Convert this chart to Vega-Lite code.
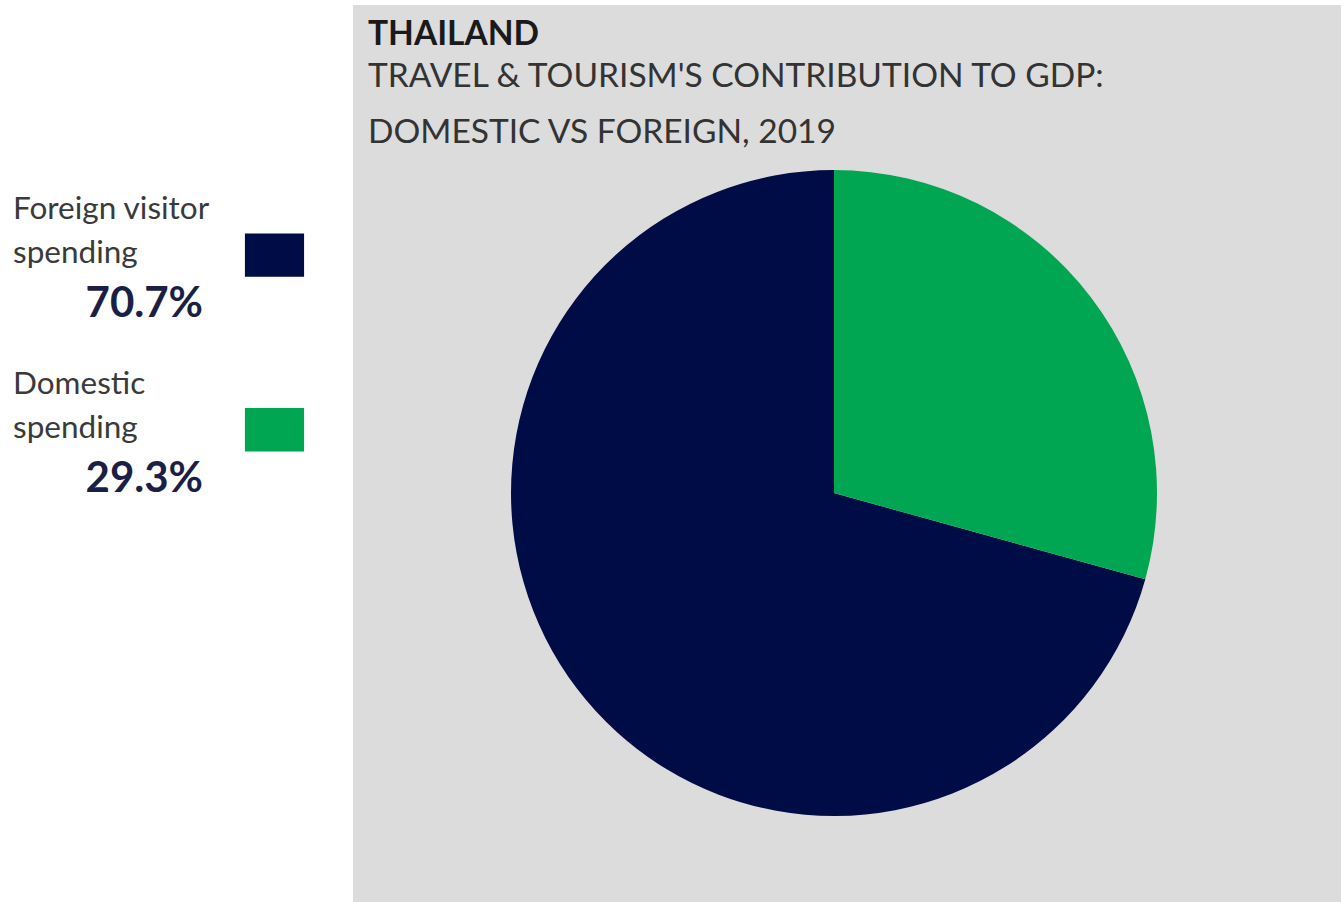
{
  "$schema": "https://vega.github.io/schema/vega-lite/v6.json",
  "background": "white",
  "padding": {"left": 0, "top": 5, "right": 0, "bottom": 0},
  "spacing": 0,
  "data": {
    "values": [
      {"category": "Foreign visitor spending", "label": "Foreign visitor\nspending", "share": 0.707},
      {"category": "Domestic spending", "label": "Domestic\nspending", "share": 0.293}
    ]
  },
  "config": {"view": {"stroke": null}},
  "hconcat": [
    {
      "width": 353,
      "height": 524,
      "encoding": {
        "y": {
          "field": "category",
          "type": "nominal",
          "sort": ["Foreign visitor spending", "Domestic spending"],
          "scale": {"type": "point", "padding": 1, "align": 0.716},
          "axis": null
        }
      },
      "layer": [
        {
          "mark": {
            "type": "point",
            "shape": "M-1,-0.733H1V0.733H-1Z",
            "size": 3500,
            "filled": true,
            "opacity": 1,
            "xOffset": 98
          },
          "encoding": {
            "color": {
              "field": "category",
              "type": "nominal",
              "scale": {"domain": ["Foreign visitor spending", "Domestic spending"], "range": ["#000c45", "#00a651"]},
              "legend": null
            }
          }
        },
        {
          "mark": {
            "type": "text",
            "align": "left",
            "baseline": "alphabetic",
            "lineBreak": "\n",
            "lineHeight": 44,
            "font": "Lato",
            "fontSize": 31.5,
            "color": "#3a3a3a",
            "dx": -163.5,
            "dy": -36
          },
          "encoding": {"text": {"field": "label"}}
        },
        {
          "mark": {
            "type": "text",
            "align": "right",
            "baseline": "alphabetic",
            "font": "Lato",
            "fontSize": 42,
            "fontWeight": "bold",
            "color": "#1b1f45",
            "dx": 26.5,
            "dy": 62
          },
          "encoding": {"text": {"field": "share", "type": "quantitative", "format": ".1%"}}
        }
      ]
    },
    {
      "width": 988,
      "height": 897,
      "view": {"fill": "#dcdcdc", "stroke": null},
      "title": {
        "text": "THAILAND",
        "subtitle": ["TRAVEL & TOURISM'S CONTRIBUTION TO GDP:", "DOMESTIC VS FOREIGN, 2019"],
        "anchor": "start",
        "frame": "group",
        "orient": "top",
        "offset": -145,
        "dx": 15,
        "font": "Lato",
        "fontSize": 33.5,
        "fontWeight": "bold",
        "color": "#1a1a1a",
        "subtitleFont": "Lato",
        "subtitleFontSize": 33.5,
        "subtitleColor": "#333333",
        "subtitleLineHeight": 56,
        "subtitlePadding": 8
      },
      "mark": {"type": "arc", "radius": 323, "xOffset": -13, "yOffset": 39.5},
      "encoding": {
        "theta": {"field": "share", "type": "quantitative", "stack": true},
        "order": {"field": "category", "sort": "ascending"},
        "color": {
          "field": "category",
          "type": "nominal",
          "scale": {"domain": ["Foreign visitor spending", "Domestic spending"], "range": ["#000c45", "#00a651"]},
          "legend": null
        }
      }
    }
  ]
}
